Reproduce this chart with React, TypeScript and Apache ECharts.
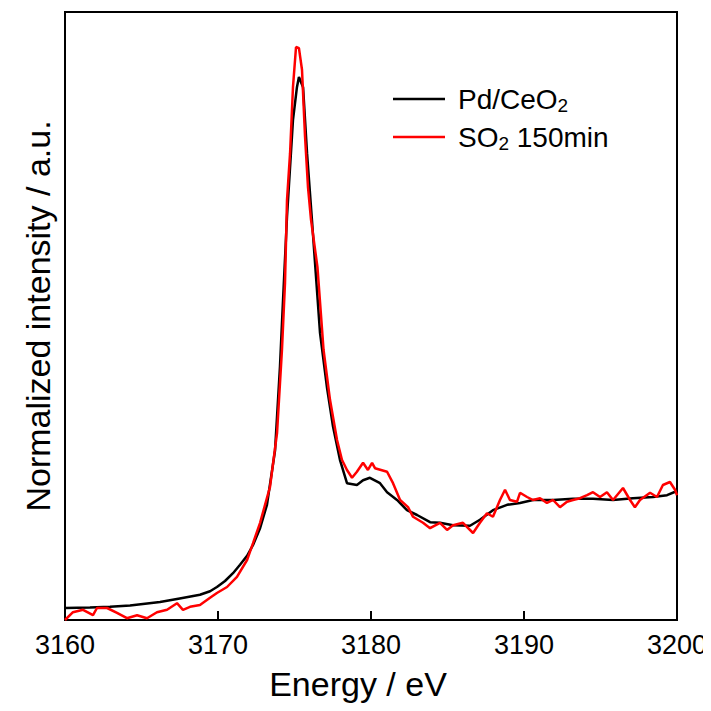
import React, { useEffect, useRef } from "react";
import * as echarts from "echarts";

const xTicks = [3160, 3170, 3180, 3190, 3200];

const pdEnergy = [
  3160.0, 3161.63, 3162.94, 3164.25, 3166.21, 3167.5, 3168.82, 3169.48, 3169.93, 3170.46,
  3170.98, 3171.44, 3171.9, 3172.29, 3172.75, 3173.2, 3173.73,
  3174.05, 3174.25, 3174.51, 3174.9, 3175.16, 3175.29, 3175.56, 3175.82, 3176.14, 3176.67,
  3177.12, 3177.52, 3177.97, 3178.43, 3179.08, 3179.48, 3179.93, 3180.59, 3181.05, 3181.7,
  3182.35, 3183.01, 3183.86, 3184.51, 3185.36, 3186.47, 3187.12, 3187.97, 3188.89, 3189.74,
  3190.59, 3191.9, 3193.2, 3194.51, 3195.82, 3197.12, 3198.43, 3199.35, 3200.0,
];
const pdIntensity = [
  0.02, 0.021, 0.022, 0.024, 0.03, 0.036, 0.042, 0.048, 0.055, 0.065,
  0.078, 0.092, 0.107, 0.125, 0.153, 0.192, 0.283,
  0.422, 0.533, 0.672, 0.833, 0.888, 0.905, 0.888, 0.778, 0.667, 0.478,
  0.388, 0.322, 0.267, 0.228, 0.225, 0.233, 0.237, 0.228, 0.213, 0.2,
  0.183, 0.175, 0.163, 0.162, 0.158, 0.157, 0.167, 0.183, 0.192, 0.195,
  0.2, 0.2, 0.202, 0.202, 0.2, 0.203, 0.205, 0.208, 0.215,
];

const so2Energy = [
  3160.0, 3160.52, 3161.18, 3161.83, 3162.09, 3162.75, 3163.4, 3164.05, 3164.71, 3165.36,
  3166.01, 3166.67, 3167.32, 3167.71, 3168.17, 3168.82, 3169.48, 3169.93, 3170.59, 3171.24,
  3171.9, 3172.29, 3172.75, 3173.4, 3173.86, 3174.18, 3174.38, 3174.51, 3174.71, 3174.9,
  3175.1, 3175.29, 3175.49, 3175.69, 3175.88, 3176.08, 3176.5, 3176.9, 3177.32, 3177.78,
  3178.1, 3178.43, 3178.76, 3179.08, 3179.48, 3179.8, 3180.07, 3180.26, 3181.05, 3181.44,
  3181.9, 3182.42, 3182.75, 3183.4, 3183.86, 3184.51, 3184.97, 3185.36, 3186.01, 3186.67,
  3187.12, 3187.58, 3187.97, 3188.43, 3188.76, 3189.08, 3189.54, 3189.74, 3190.2, 3190.59,
  3191.05, 3191.5, 3191.9, 3192.35, 3192.81, 3193.2, 3193.66, 3194.12, 3194.51, 3194.97,
  3195.42, 3195.82, 3196.47, 3196.93, 3197.25, 3197.58, 3198.24, 3198.69, 3199.08, 3199.54,
  3199.87, 3200.0,
];
const so2Intensity = [
  0.0, 0.013, 0.017, 0.008, 0.02, 0.02, 0.012, 0.003, 0.008, 0.003,
  0.013, 0.017, 0.028, 0.017, 0.022, 0.025, 0.037, 0.045, 0.055, 0.072,
  0.1, 0.128, 0.162, 0.222, 0.312, 0.45, 0.562, 0.7, 0.778, 0.888,
  0.955, 0.953, 0.917, 0.805, 0.722, 0.667, 0.588, 0.45, 0.367, 0.3,
  0.267, 0.25, 0.237, 0.247, 0.262, 0.25, 0.262, 0.253, 0.247, 0.228,
  0.2, 0.188, 0.172, 0.162, 0.153, 0.162, 0.15, 0.158, 0.162, 0.145,
  0.162, 0.178, 0.172, 0.2, 0.217, 0.2, 0.197, 0.212, 0.205, 0.2,
  0.203, 0.195, 0.2, 0.188, 0.197, 0.2, 0.203, 0.208, 0.213, 0.205,
  0.213, 0.2, 0.22, 0.2, 0.188, 0.2, 0.212, 0.205, 0.225, 0.23,
  0.217, 0.208,
];

const FONT = "'Liberation Sans', Arial, sans-serif";

export default function App() {
  const ref = useRef<HTMLDivElement>(null);
  useEffect(() => {
    if (!ref.current) return;
    const chart = echarts.init(ref.current, undefined, { renderer: "svg" });
    const pd = pdEnergy.map((x, i) => [x, pdIntensity[i]]);
    const so2 = so2Energy.map((x, i) => [x, so2Intensity[i]]);
    const subRich = {
      n: { fontSize: 28, fontFamily: FONT, color: "#000", lineHeight: 32 },
      s: { fontSize: 19, fontFamily: FONT, color: "#000", lineHeight: 10, verticalAlign: "bottom" },
    };
    chart.setOption({
      animation: false,
      backgroundColor: "#fff",
      grid: {
        left: 65,
        right: 34,
        top: 12,
        bottom: 91,
        show: true,
        borderColor: "#000",
        borderWidth: 2,
        backgroundColor: "transparent",
      },
      xAxis: {
        type: "value",
        min: 3160,
        max: 3200,
        interval: 10,
        name: "Energy / eV",
        nameLocation: "middle",
        nameGap: 47,
        nameTextStyle: { fontSize: 34, fontFamily: FONT, color: "#000", padding: [0, 26, 0, 0] },
        axisLine: { show: true, lineStyle: { color: "#000", width: 2 } },
        axisTick: { show: true, inside: true, length: 9, lineStyle: { color: "#000", width: 2 } },
        axisLabel: {
          fontSize: 27,
          fontFamily: FONT,
          color: "#000",
          margin: 11,
          formatter: (v: number) => (xTicks.includes(v) ? String(v) : ""),
        },
        splitLine: { show: false },
      },
      yAxis: {
        type: "value",
        min: 0,
        max: 1.0133,
        name: "Normalized intensity / a.u.",
        nameLocation: "middle",
        nameGap: 10,
        nameTextStyle: { fontSize: 34, fontFamily: FONT, color: "#000" },
        axisLine: { show: true, lineStyle: { color: "#000", width: 2 } },
        axisTick: { show: false },
        axisLabel: { show: false },
        splitLine: { show: false },
      },
      series: [
        {
          name: "Pd/CeO2",
          type: "line",
          data: pd,
          symbol: "none",
          lineStyle: { color: "#000", width: 2.5 },
          z: 3,
        },
        {
          name: "SO2 150min",
          type: "line",
          data: so2,
          symbol: "none",
          lineStyle: { color: "#ff0000", width: 2.5 },
          z: 4,
        },
      ],
      graphic: [
        {
          type: "line",
          shape: { x1: 393, y1: 99, x2: 445, y2: 99 },
          style: { stroke: "#000", lineWidth: 2.5 },
        },
        {
          type: "line",
          shape: { x1: 393, y1: 137, x2: 445, y2: 137 },
          style: { stroke: "#ff0000", lineWidth: 2.5 },
        },
        {
          type: "text",
          x: 458,
          y: 99,
          style: {
            text: "{n|Pd/CeO}{s|2}",
            rich: subRich,
            verticalAlign: "middle",
            align: "left",
          },
        },
        {
          type: "text",
          x: 458,
          y: 137,
          style: {
            text: "{n|SO}{s|2}{n| 150min}",
            rich: subRich,
            verticalAlign: "middle",
            align: "left",
          },
        },
      ],
    });
    return () => chart.dispose();
  }, []);
  return <div ref={ref} style={{ width: 711, height: 711, margin: -8 }} />;
}
